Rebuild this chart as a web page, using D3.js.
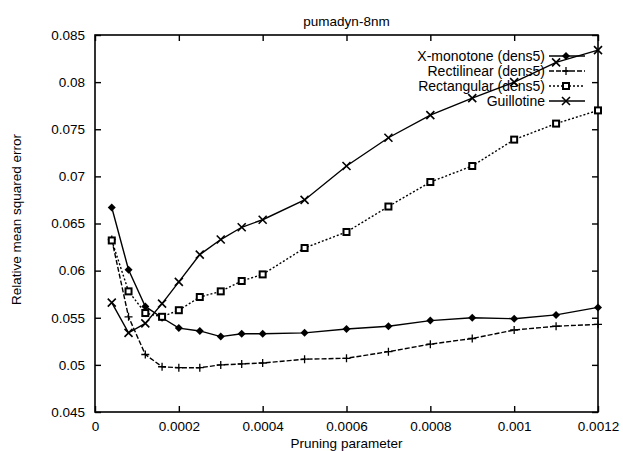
<!DOCTYPE html>
<html><head><meta charset="utf-8">
<script src="https://cdn.jsdelivr.net/npm/d3@7"></script>
<style>body{margin:0;background:#fff}svg{display:block}text{font-family:"Liberation Sans",Arial,sans-serif;fill:#000}</style>
</head><body><svg id="c" width="623" height="451"></svg>
<script>
const xValues = [0.00004,0.00008,0.00012,0.00016,0.0002,0.00025,0.0003,0.00035,0.0004,0.0005,0.0006,0.0007,0.0008,0.0009,0.001,0.0011,0.0012];
const xMonotone   = [0.0667,0.0601,0.0562,0.0550,0.0539,0.0536,0.0530,0.0533,0.0533,0.0534,0.0538,0.0541,0.0547,0.0550,0.0549,0.0553,0.0561];
const rectilinear = [0.0633,0.0551,0.0511,0.0498,0.0497,0.0497,0.0500,0.0501,0.0502,0.0506,0.0507,0.0514,0.0522,0.0528,0.0537,0.0541,0.0543];
const rectangular = [0.0632,0.0578,0.0555,0.0551,0.0558,0.0572,0.0578,0.0589,0.0596,0.0624,0.0641,0.0668,0.0694,0.0711,0.0739,0.0756,0.0770];
const guillotine  = [0.0566,0.0534,0.0544,0.0565,0.0588,0.0617,0.0633,0.0646,0.0654,0.0675,0.0711,0.0741,0.0765,0.0783,0.0800,0.0821,0.0834];
const seriesNames = ["X-monotone (dens5)","Rectilinear (dens5)","Rectangular (dens5)","Guillotine"];
const xTicks = [0,0.0002,0.0004,0.0006,0.0008,0.001,0.0012];
const xTickLabels = ["0","0.0002","0.0004","0.0006","0.0008","0.001","0.0012"];
const yTicks = [0.045,0.05,0.055,0.06,0.065,0.07,0.075,0.08,0.085];
const yTickLabels = ["0.045","0.05","0.055","0.06","0.065","0.07","0.075","0.08","0.085"];

const svg = d3.select("#c");
const L=95,R=598,T=35,B=412;
const x = d3.scaleLinear().domain([0,0.0012]).range([L,R]);
const y = d3.scaleLinear().domain([0.045,0.085]).range([B,T]);
const fs = 13.5;

svg.append("rect").attr("x",L).attr("y",T).attr("width",R-L).attr("height",B-T)
  .attr("fill","none").attr("stroke","#000").attr("stroke-width",1.6);

const gx = svg.append("g").attr("transform",`translate(0,${B})`)
  .call(d3.axisBottom(x).tickValues(xTicks).tickFormat((d,i)=>xTickLabels[i]).tickSizeInner(-6).tickSizeOuter(0).tickPadding(9));
const gxt = svg.append("g").attr("transform",`translate(0,${T})`)
  .call(d3.axisTop(x).tickValues(xTicks).tickFormat("").tickSizeInner(-6).tickSizeOuter(0));
const gy = svg.append("g").attr("transform",`translate(${L},0)`)
  .call(d3.axisLeft(y).tickValues(yTicks).tickFormat((d,i)=>yTickLabels[i]).tickSizeInner(-6).tickSizeOuter(0).tickPadding(10));
const gyr = svg.append("g").attr("transform",`translate(${R},0)`)
  .call(d3.axisRight(y).tickValues(yTicks).tickFormat("").tickSizeInner(-6).tickSizeOuter(0));
[gx,gxt,gy,gyr].forEach(g=>{
  g.select(".domain").remove();
  g.selectAll(".tick line").attr("stroke","#000").attr("stroke-width",1.4);
  g.selectAll("text").attr("font-size",fs).attr("font-family",'"Liberation Sans",Arial,sans-serif').attr("fill","#000");
});

svg.append("text").attr("x",(L+R)/2).attr("y",26).attr("text-anchor","middle").attr("font-size",fs).text("pumadyn-8nm");
svg.append("text").attr("x",(L+R)/2).attr("y",448).attr("text-anchor","middle").attr("font-size",fs).text("Pruning parameter");
svg.append("text").attr("transform",`translate(21,${(T+B)/2 - 4}) rotate(-90)`).attr("text-anchor","middle").attr("font-size",fs).text("Relative mean squared error");

const series = [
  {name:seriesNames[0], vals:xMonotone, dash:null, mark:"diamond"},
  {name:seriesNames[1], vals:rectilinear, dash:"5,2", mark:"plus"},
  {name:seriesNames[2], vals:rectangular, dash:"2,2", mark:"square"},
  {name:seriesNames[3], vals:guillotine, dash:null, mark:"cross"}
];

function marker(g, mark, cx, cy){
  const s=4;
  if(mark==="diamond"){
    g.append("path").attr("d",`M${cx},${cy-s}L${cx+s},${cy}L${cx},${cy+s}L${cx-s},${cy}Z`).attr("fill","#000");
  } else if(mark==="plus"){
    g.append("path").attr("d",`M${cx-s},${cy}H${cx+s}M${cx},${cy-s}V${cy+s}`).attr("stroke","#000").attr("stroke-width",1.3);
  } else if(mark==="square"){
    g.append("rect").attr("x",cx-3).attr("y",cy-3).attr("width",6).attr("height",6).attr("fill","#fff").attr("stroke","#000").attr("stroke-width",2);
  } else {
    g.append("path").attr("d",`M${cx-s},${cy-s}L${cx+s},${cy+s}M${cx-s},${cy+s}L${cx+s},${cy-s}`).attr("stroke","#000").attr("stroke-width",1.6);
  }
}

const line = d3.line().x(d=>x(d[0])).y(d=>y(d[1]));
series.forEach(s=>{
  const pts = xValues.map((v,i)=>[v,s.vals[i]]);
  const g = svg.append("g");
  g.append("path").attr("d",line(pts)).attr("fill","none").attr("stroke","#000")
    .attr("stroke-width",1.4).attr("stroke-dasharray",s.dash);
  pts.forEach(p=>marker(g,s.mark,x(p[0]),y(p[1])));
});

const legY0 = 56, legDy = 15, legFs = 14;
series.forEach((s,i)=>{
  const yy = legY0 + i*legDy;
  svg.append("text").attr("x",545).attr("y",yy).attr("dy","0.35em").attr("text-anchor","end").attr("font-size",legFs).text(s.name);
  const g = svg.append("g");
  g.append("line").attr("x1",549).attr("x2",585).attr("y1",yy).attr("y2",yy).attr("stroke","#000").attr("stroke-width",1.4).attr("stroke-dasharray",s.dash);
  marker(g,s.mark,566,yy);
});
</script></body></html>
